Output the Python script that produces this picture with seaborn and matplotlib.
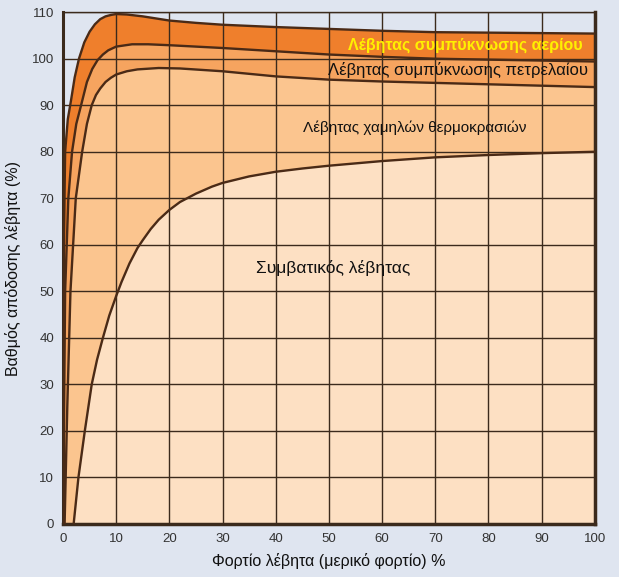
import matplotlib
matplotlib.use("Agg")
import matplotlib.pyplot as plt
import seaborn as sns

# Data (load % -> efficiency %)
gas_x = [0, 0.1, 0.4, 0.9, 1.5, 2.2, 3, 4, 5, 6, 7, 8, 9, 10, 12, 15, 20, 25, 30, 40, 50, 60, 70, 80, 90, 100]
gas_y = [0, 55, 80, 87, 91, 96, 100, 103.5, 105.8, 107.4, 108.5, 109.1, 109.4, 109.6, 109.5, 109.1, 108.2, 107.7, 107.3, 106.8, 106.4, 106.0, 105.7, 105.6, 105.5, 105.4]

oil_x = [0, 0.4, 1.0, 1.7, 2.5, 3.4, 4.5, 5.5, 6.5, 7.5, 8.5, 10, 13, 16, 20, 25, 30, 40, 50, 60, 70, 80, 90, 100]
oil_y = [0, 50, 70, 80, 86, 90, 95, 97.8, 99.7, 100.9, 101.8, 102.6, 103.1, 103.1, 102.9, 102.6, 102.3, 101.6, 100.9, 100.4, 100.0, 99.8, 99.6, 99.4]

low_x = [0.3, 0.8, 1.4, 2.4, 3.6, 4.5, 5.4, 6.2, 7, 8, 9, 10, 12, 14, 18, 22, 26, 30, 40, 50, 60, 70, 80, 90, 100]
low_y = [0, 25, 50, 70, 80, 86, 90, 92.2, 93.6, 95.0, 95.9, 96.6, 97.3, 97.7, 98.0, 97.9, 97.6, 97.3, 96.2, 95.5, 95.1, 94.8, 94.5, 94.2, 93.9]

conv_x = [2, 2.9, 4.1, 5.4, 6.4, 7.5, 8.7, 10, 11, 12.5, 14, 15, 16.5, 18, 20, 22, 25, 28, 30, 35, 40, 45, 50, 60, 70, 80, 90, 100]
conv_y = [0, 10, 20, 30, 35.3, 40, 44.8, 49, 52, 56, 59.3, 61, 63.4, 65.4, 67.5, 69.2, 71.0, 72.5, 73.3, 74.7, 75.7, 76.4, 77, 78, 78.8, 79.3, 79.7, 80]

labels = ["Λέβητας συμπύκνωσης αερίου", "Λέβητας συμπύκνωσης πετρελαίου",
          "Λέβητας χαμηλών θερμοκρασιών", "Συμβατικός λέβητας"]

bg = "#dfe5f0"
fills = ["#ef7f2c", "#f6a45f", "#fbc58f", "#fde0c3"]
line_c = "#4a2a16"
grid_c = "#3b2a1c"

sns.set_style("white", {"axes.facecolor": bg, "figure.facecolor": bg})
plt.rcParams['font.family'] = ['Liberation Sans', 'DejaVu Sans']

fig = plt.figure(figsize=(6.19, 5.77), dpi=100)
ax = fig.add_axes([0.1018, 0.0919, 0.859, 0.887])

# stacked fills, back to front
for xs, ys, c in [(gas_x, gas_y, fills[0]), (oil_x, oil_y, fills[1]),
                  (low_x, low_y, fills[2]), (conv_x, conv_y, fills[3])]:
    ax.fill_between(xs, ys, 0, color=c, lw=0, zorder=1)

ax.set_xlim(0, 100)
ax.set_ylim(0, 110)
ax.set_xticks(range(0, 101, 10))
ax.set_yticks(range(0, 111, 10))
ax.grid(True, color=grid_c, lw=1.0, zorder=2)
ax.set_axisbelow(False)

for xs, ys in [(gas_x, gas_y), (oil_x, oil_y), (low_x, low_y), (conv_x, conv_y)]:
    sns.lineplot(x=xs, y=ys, ax=ax, color=line_c, lw=1.7, sort=False,
                 estimator=None, zorder=3)

for s in ax.spines.values():
    s.set_color(grid_c)
ax.spines['top'].set_linewidth(1.0)
ax.spines['left'].set_linewidth(2.2)
ax.spines['bottom'].set_linewidth(2.5)
ax.spines['right'].set_linewidth(2.5)

ax.tick_params(axis='both', colors="#333333", labelsize=9.5, length=3, width=1)

ax.text(75.6, 102.8, labels[0], color="#fff000", fontsize=11.5, fontweight='bold',
        ha='center', va='center', zorder=4)
ax.text(74.2, 97.6, labels[1], color="#111111", fontsize=12,
        ha='center', va='center', zorder=4)
ax.text(66.2, 85.2, labels[2], color="#111111", fontsize=11,
        ha='center', va='center', zorder=4)
ax.text(50.8, 55, labels[3], color="#111111", fontsize=12.5,
        ha='center', va='center', zorder=4)

ax.set_xlabel("Φορτίο λέβητα (μερικό φορτίο) %", fontsize=11.5, color="#111111", labelpad=6)
ax.set_ylabel("Βαθμός απόδοσης λέβητα (%)", fontsize=11.5, color="#111111", labelpad=8)

fig.savefig("out.png", dpi=100, facecolor=bg)
